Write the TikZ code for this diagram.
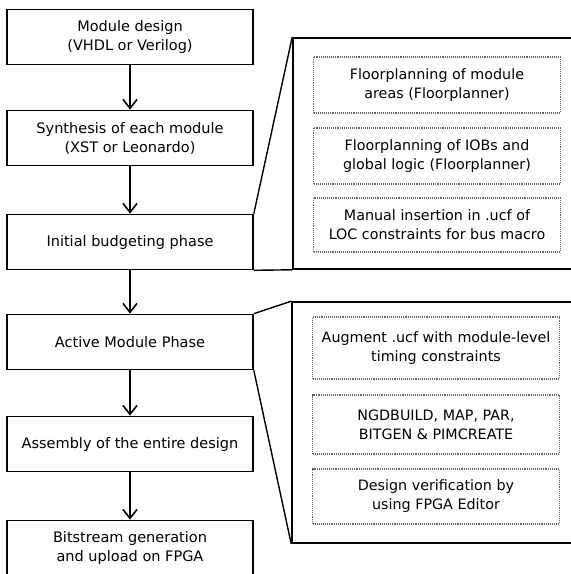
\documentclass[tikz,border=0pt]{standalone}
\usepackage{fontspec}
\setmainfont{DejaVu Sans}
\usetikzlibrary{arrows.meta}

\begin{document}
\begin{tikzpicture}[x=1pt, y=-1pt,
  stage/.style={draw, line width=1.6pt, minimum width=246pt, minimum height=55pt,
    align=center, font=\fontsize{14.5}{19}\selectfont},
  panel/.style={draw, line width=1.6pt},
  task/.style={draw=black!60, densely dotted, line width=1.1pt, minimum width=247pt,
    align=center, font=\fontsize{14.3}{19}\selectfont},
  flow/.style={line width=1.6pt, -{Straight Barb[length=9pt,width=14pt]}},
  zoomline/.style={line width=1.4pt}]
  \useasboundingbox (0,0) rectangle (571,574);

  % left column
  \node[stage] (design) at (130,37) {Module design\\(VHDL or Verilog)};
  \node[stage] (synth) at (130,138) {Synthesis of each module\\(XST or Leonardo)};
  \node[stage] (budget) at (130,242) {Initial budgeting phase};
  \node[stage] (active) at (130,342) {Active Module Phase};
  \node[stage] (assembly) at (130,444) {Assembly of the entire design};
  \node[stage] (bitstream) at (130,548) {Bitstream generation\\and upload on FPGA};

  \draw[flow] (design) -- (synth);
  \draw[flow] (synth) -- (budget);
  \draw[flow] (budget) -- (active);
  \draw[flow] (active) -- (assembly);
  \draw[flow] (assembly) -- (bitstream);

  % right panels
  \node[panel, minimum width=300pt, minimum height=231pt] (budgetpanel) at (443,153.5) {};
  \node[panel, minimum width=300pt, minimum height=241pt] (activepanel) at (442,422.5) {};

  \draw[zoomline] (budget.north east) -- (budgetpanel.north west);
  \draw[zoomline] (budget.south east) -- (budgetpanel.south west);
  \draw[zoomline] (active.north east) -- (activepanel.north west);
  \draw[zoomline] (active.south east) -- (activepanel.south west);

  \node[task, minimum height=56pt] (floormod) at (437,85) {Floorplanning of module\\areas (Floorplanner)};
  \node[task, minimum height=56pt] (floorio) at (437,156) {Floorplanning of IOBs and\\global logic (Floorplanner)};
  \node[task, minimum height=54pt] (locins) at (437,225) {Manual insertion in .ucf of\\LOC constraints for bus macro};

  \node[task, minimum height=62pt] (augment) at (436,348) {Augment .ucf with module-level\\timing constraints};
  \node[task, minimum height=59pt] (ngd) at (436,424.5) {NGDBUILD, MAP, PAR,\\BITGEN \& PIMCREATE};
  \node[task, minimum height=55pt] (verify) at (436,496.5) {Design verification by\\using FPGA Editor};
\end{tikzpicture}
\end{document}
